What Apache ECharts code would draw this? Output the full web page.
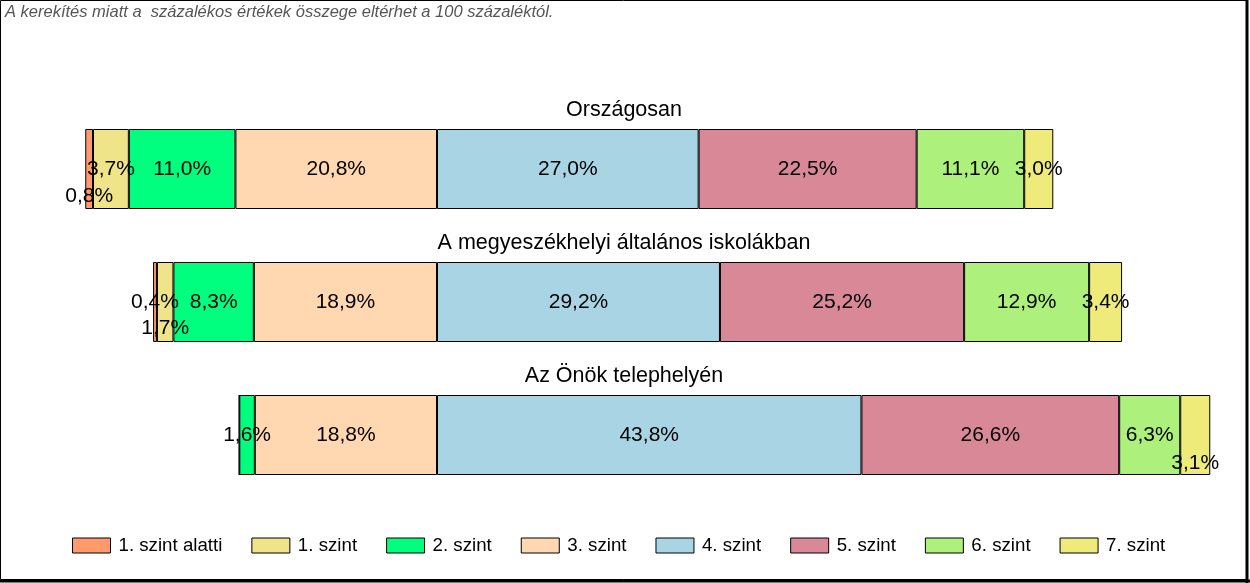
<!DOCTYPE html>
<html>
<head>
<meta charset="utf-8">
<script src="https://cdn.jsdelivr.net/npm/echarts@6/dist/echarts.min.js"></script>
<style>
html,body{margin:0;padding:0;background:#fff;}
#chart{width:1250px;height:583px;}
</style>
</head>
<body>
<div id="chart"></div>
<script>
// ---- data ----
var categories = ['Országosan', 'A megyeszékhelyi általános iskolákban', 'Az Önök telephelyén'];
var levelNames = ['1. szint alatti', '1. szint', '2. szint', '3. szint', '4. szint', '5. szint', '6. szint', '7. szint'];
var lvlBelow1 = [0.8, 0.4, 0];
var lvl1 = [3.7, 1.7, 0];
var lvl2 = [11.0, 8.3, 1.6];
var lvl3 = [20.8, 18.9, 18.8];
var lvl4 = [27.0, 29.2, 43.8];
var lvl5 = [22.5, 25.2, 26.6];
var lvl6 = [11.1, 12.9, 6.3];
var lvl7 = [3.0, 3.4, 3.1];
var note = 'A kerekítés miatt a  százalékos értékek összege eltérhet a 100 százaléktól.';

// ---- styling ----
var colors = ['#FF9A6C', '#F0E48A', '#00FF7F', '#FFD7B0', '#A8D4E4', '#D98898', '#ADF07B', '#EEEB7A'];
var FONT = '"Liberation Sans", Arial, sans-serif';
// label vertical shifts for crowded small segments: [levelIndex][rowIndex]
var labelShift = {0: {0: 27}, 1: {1: 26}, 7: {2: 28}};

var values = [lvlBelow1, lvl1, lvl2, lvl3, lvl4, lvl5, lvl6, lvl7];

function fmt(v) { return Math.abs(v).toFixed(1).replace('.', ',') + '%'; }

function makeSeries(idx) {
  var neg = idx < 4;
  var data = values[idx].map(function (v, r) {
    var item = { value: neg ? -v : v };
    var s = labelShift[idx] && labelShift[idx][r];
    if (s) item.label = { offset: [0, s] };
    return item;
  });
  return {
    name: levelNames[idx],
    type: 'bar',
    stack: 'total',
    barWidth: 80,
    data: data,
    itemStyle: { color: colors[idx], borderColor: '#000', borderWidth: 1 },
    label: {
      show: true,
      position: 'inside',
      color: '#000',
      fontFamily: FONT,
      fontSize: 21,
      formatter: function (p) { return p.value === 0 ? '' : fmt(p.value); }
    },
    emphasis: { disabled: true },
    animation: false
  };
}

// stacking order: negative side from center outward, then positive side
var order = [3, 2, 1, 0, 4, 5, 6, 7];
var series = order.map(makeSeries);

var chart = echarts.init(document.getElementById('chart'), null, { renderer: 'canvas' });
var option = {
  animation: false,
  backgroundColor: '#fff',
  grid: { left: 49.4, right: 37.8, top: 102.5, bottom: 81.5, containLabel: false },
  xAxis: {
    type: 'value', min: -40, max: 80,
    show: false, splitLine: { show: false }
  },
  yAxis: {
    type: 'category', data: categories, inverse: true,
    show: false
  },
  legend: {
    data: levelNames,
    left: 72, top: 536, padding: 0,
    itemWidth: 38, itemHeight: 15, itemGap: 29,
    icon: 'rect',
    itemStyle: { borderColor: '#000', borderWidth: 1 },
    textStyle: { fontFamily: FONT, fontSize: 18.7, color: '#000', padding: [0, 0, 0, 3] },
    selectedMode: false
  },
  series: series
};
chart.setOption(option);

// titles above each bar and frame/note
var graphics = [
  { type: 'rect', shape: { x: 0.5, y: 0.5, width: 1246, height: 579 }, style: { fill: null, stroke: '#000', lineWidth: 1 }, silent: true },
  { type: 'line', shape: { x1: 1247, y1: 0, x2: 1247, y2: 583 }, style: { stroke: '#000', lineWidth: 3 }, silent: true },
  { type: 'line', shape: { x1: 0, y1: 581, x2: 1250, y2: 581 }, style: { stroke: '#000', lineWidth: 3 }, silent: true },
  { type: 'text', left: 5, top: 4, style: { text: note, fontFamily: FONT, fontStyle: 'italic', fontSize: 16.5, fill: '#555' }, silent: true }
];
categories.forEach(function (c) {
  var y = chart.convertToPixel({ yAxisIndex: 0 }, c);
  graphics.push({
    type: 'text', x: 624, y: y - 58.5,
    style: { text: c, fontFamily: FONT, fontSize: 21.5, fill: '#000', align: 'center', verticalAlign: 'middle' },
    silent: true
  });
});
chart.setOption({ graphic: graphics });
</script>
</body>
</html>
